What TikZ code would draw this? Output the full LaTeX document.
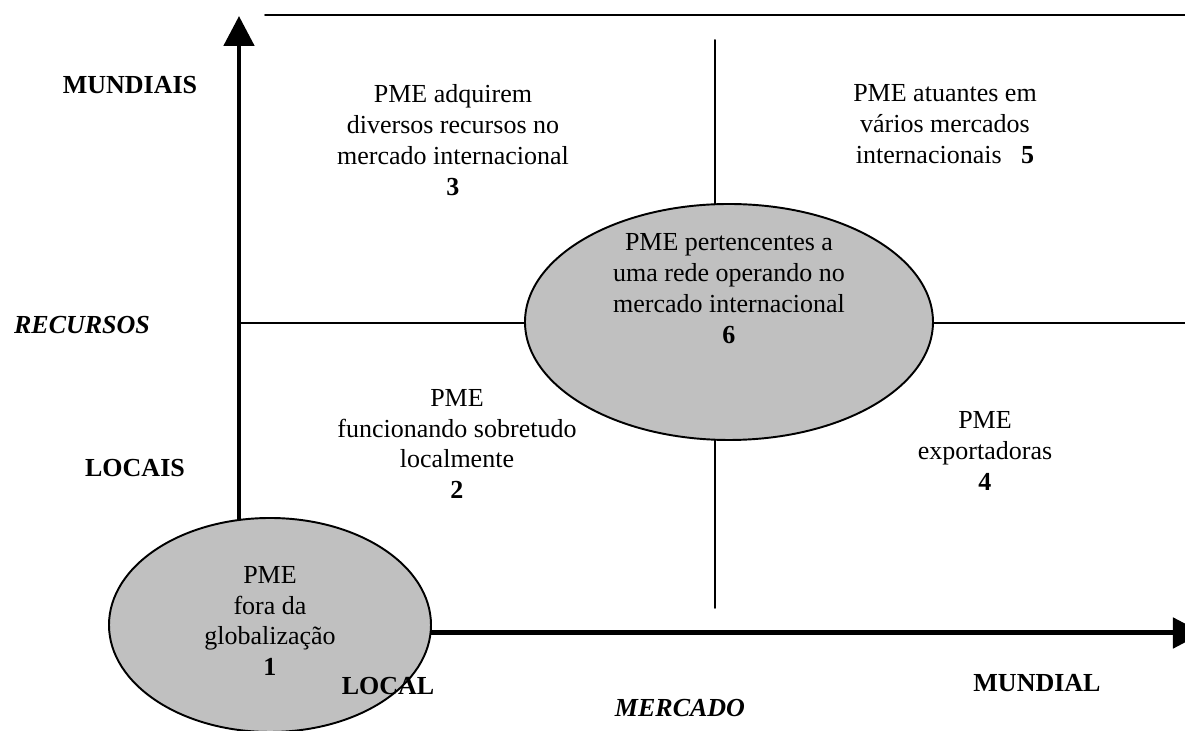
\documentclass[tikz,border=0pt]{standalone}
\usepackage{fontspec}
\setmainfont{Liberation Serif}
\usepackage{tkz-euclide}
\usetikzlibrary{shapes.geometric,arrows.meta}
\definecolor{cinza}{RGB}{192,192,192}

\begin{document}
\begin{tikzpicture}[inner sep=0pt,
    fleche/.style={line width=1.42pt,-{Triangle[length=3mm,width=3mm]}},
    trait/.style={line width=0.55pt,color=black},
    bulle/.style={ellipse,draw,line width=0.55pt,fill=cinza},
    texte/.style={align=center,font=\fontsize{7.4pt}{8.8pt}\selectfont},
    titre/.style={font=\fontsize{7.4pt}{8.8pt}\selectfont\bfseries}]
    \useasboundingbox (0,0) rectangle (11.85,-7.31);
    % pontos
    \tkzDefPoints{2.39/-6.0/A, 2.39/-0.16/B, 3.0/-6.33/C, 12.03/-6.33/D,
      2.65/-0.15/E, 11.85/-0.15/F, 7.15/-0.40/G, 7.15/-6.08/H,
      2.39/-3.23/K, 11.85/-3.23/L}
    % eixos
    \draw[fleche] (A) -- (B);
    \draw[fleche] (C) -- (D);
    % linhas
    \tkzDrawSegments[trait](E,F G,H K,L)
    % elipses
    \node[bulle,minimum width=4.08cm,minimum height=2.36cm] (e6) at (7.29,-3.22) {};
    \node[bulle,minimum width=3.22cm,minimum height=2.14cm] (e1) at (2.70,-6.25) {};
    % textos dos quadrantes
    \node[texte] (t3) at (4.53,-1.40) {PME adquirem\\diversos recursos no\\mercado internacional\\\textbf{3}};
    \node[texte] (t5) at (9.45,-1.24) {PME atuantes em\\vários mercados\\internacionais\ \ \ \textbf{5}};
    \node[texte] (t6) at (7.29,-2.89) {PME pertencentes a\\uma rede operando no\\mercado internacional\\\textbf{6}};
    \node[texte] (t2) at (4.57,-4.44) {PME\\funcionando sobretudo\\localmente\\\textbf{2}};
    \node[texte] (t4) at (9.85,-4.51) {PME\\exportadoras\\\textbf{4}};
    \node[texte] (t1) at (2.70,-6.21) {PME\\fora da\\globalização\\\textbf{1}};
    % eixos: rótulos
    \node[titre] (mundiais) at (1.30,-0.85) {MUNDIAIS};
    \node[titre] (recursos) at (0.82,-3.25) {\itshape RECURSOS};
    \node[titre] (locais) at (1.35,-4.68) {LOCAIS};
    \node[titre] (local) at (3.88,-6.86) {LOCAL};
    \node[titre] (mundial) at (10.37,-6.83) {MUNDIAL};
    \node[titre] (mercado) at (6.80,-7.08) {\itshape MERCADO};
\end{tikzpicture}
\end{document}
